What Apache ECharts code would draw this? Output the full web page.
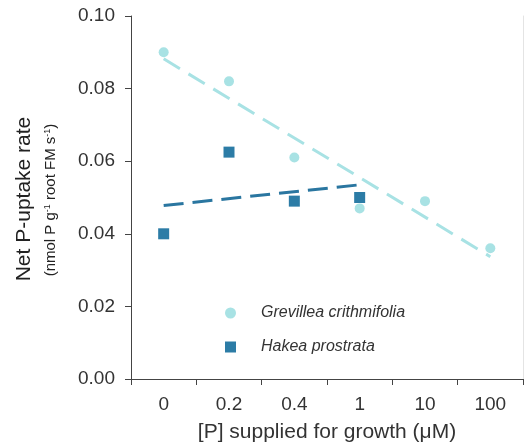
<!DOCTYPE html>
<html>
<head>
<meta charset="utf-8">
<script src="https://cdn.jsdelivr.net/npm/echarts@6/dist/echarts.min.js"></script>
<style>html,body{margin:0;padding:0;background:#fff}#c{width:525px;height:448px}</style>
</head>
<body>
<div id="c"></div>
<script>
var categories = ['0', '0.2', '0.4', '1', '10', '100'];
var grevillea = [0.090, 0.082, 0.061, 0.047, 0.049, 0.036];
var hakea = [0.040, 0.0625, 0.049, 0.050, null, null];
var grevilleaTrend = [0.0882, null, null, null, null, 0.0337];
var hakeaTrend = [0.0478, null, null, 0.0535, null, null];
var yTicks = [0, 0.02, 0.04, 0.06, 0.08, 0.10];

var FONT = 'Liberation Sans, Arial, Helvetica, sans-serif';
var cG = '#a8e2e4', cH = '#2c7ca6';
var chart = echarts.init(document.getElementById('c'));
chart.setOption({
  animation: false,
  textStyle: {fontFamily: FONT},
  grid: {left: 131, right: 2, top: 16, bottom: 69, show: false},
  xAxis: [{
    type: 'category', data: categories, position: 'bottom',
    axisLine: {lineStyle: {color: '#444', width: 1}},
    axisTick: {show: true, length: 6, lineStyle: {color: '#444'}},
    axisLabel: {color: '#333', fontSize: 19, margin: 16, fontFamily: FONT},
    name: '[P] supplied for growth (μM)', nameLocation: 'middle', nameGap: 43,
    nameTextStyle: {color: '#333', fontSize: 21, fontFamily: FONT}
  }, {
    type: 'category', data: categories, position: 'top',
    axisLine: {lineStyle: {color: '#444', width: 1}},
    axisTick: {show: false}, axisLabel: {show: false}
  }],
  yAxis: [{
    type: 'value', min: yTicks[0], max: yTicks[yTicks.length - 1], interval: 0.02,
    axisLine: {show: true, lineStyle: {color: '#444', width: 1}},
    axisTick: {show: true, length: 6, lineStyle: {color: '#444'}},
    splitLine: {show: false},
    axisLabel: {color: '#333', fontSize: 19, margin: 16, fontFamily: FONT,
      formatter: function (v) { return v.toFixed(2); }}
  }, {
    type: 'value', min: 0, max: 0.1, position: 'right',
    axisLine: {show: true, lineStyle: {color: '#e4e4e4', width: 1}},
    axisTick: {show: false}, axisLabel: {show: false}, splitLine: {show: false}
  }],
  legend: {
    orient: 'vertical', left: 220, top: 300, itemWidth: 11, itemHeight: 11, itemGap: 18,
    data: [{name: 'Grevillea crithmifolia', icon: 'circle'}, {name: 'Hakea prostrata', icon: 'rect'}],
    textStyle: {fontSize: 16, fontStyle: 'italic', color: '#333', fontFamily: FONT, padding: [0, 0, 0, 20]}
  },
  graphic: [{
    type: 'text', x: 24, y: 199, rotation: Math.PI / 2,
    style: {text: 'Net P-uptake rate', fontSize: 21, fontFamily: FONT, fill: '#222',
      textAlign: 'center', textVerticalAlign: 'middle', align: 'center', verticalAlign: 'middle'}
  }, {
    type: 'text', x: 51, y: 200, rotation: Math.PI / 2,
    style: {text: '(nmol P g{s|-1} root FM s{s|-1})', fontSize: 15, fontFamily: FONT, fill: '#222',
      textAlign: 'center', textVerticalAlign: 'middle', align: 'center', verticalAlign: 'middle',
      rich: {s: {fontSize: 9, fontFamily: FONT, fill: '#222', verticalAlign: 'top', lineHeight: 15}}}
  }],
  series: [{
    name: 'Grevillea crithmifolia', type: 'scatter', data: grevillea,
    symbol: 'circle', symbolSize: 10, itemStyle: {color: cG, opacity: 1}, z: 2
  }, {
    name: 'Hakea prostrata', type: 'scatter', data: hakea,
    symbol: 'rect', symbolSize: 11, itemStyle: {color: cH, opacity: 1}, z: 2
  }, {
    type: 'line', data: grevilleaTrend, connectNulls: true, showSymbol: false, symbol: 'none',
    lineStyle: {color: cG, width: 3, type: [19, 10]}, z: 3
  }, {
    type: 'line', data: hakeaTrend, connectNulls: true, showSymbol: false, symbol: 'none',
    lineStyle: {color: '#2a76a0', width: 3, type: [20, 9]}, z: 3
  }]
});
</script>
</body>
</html>
